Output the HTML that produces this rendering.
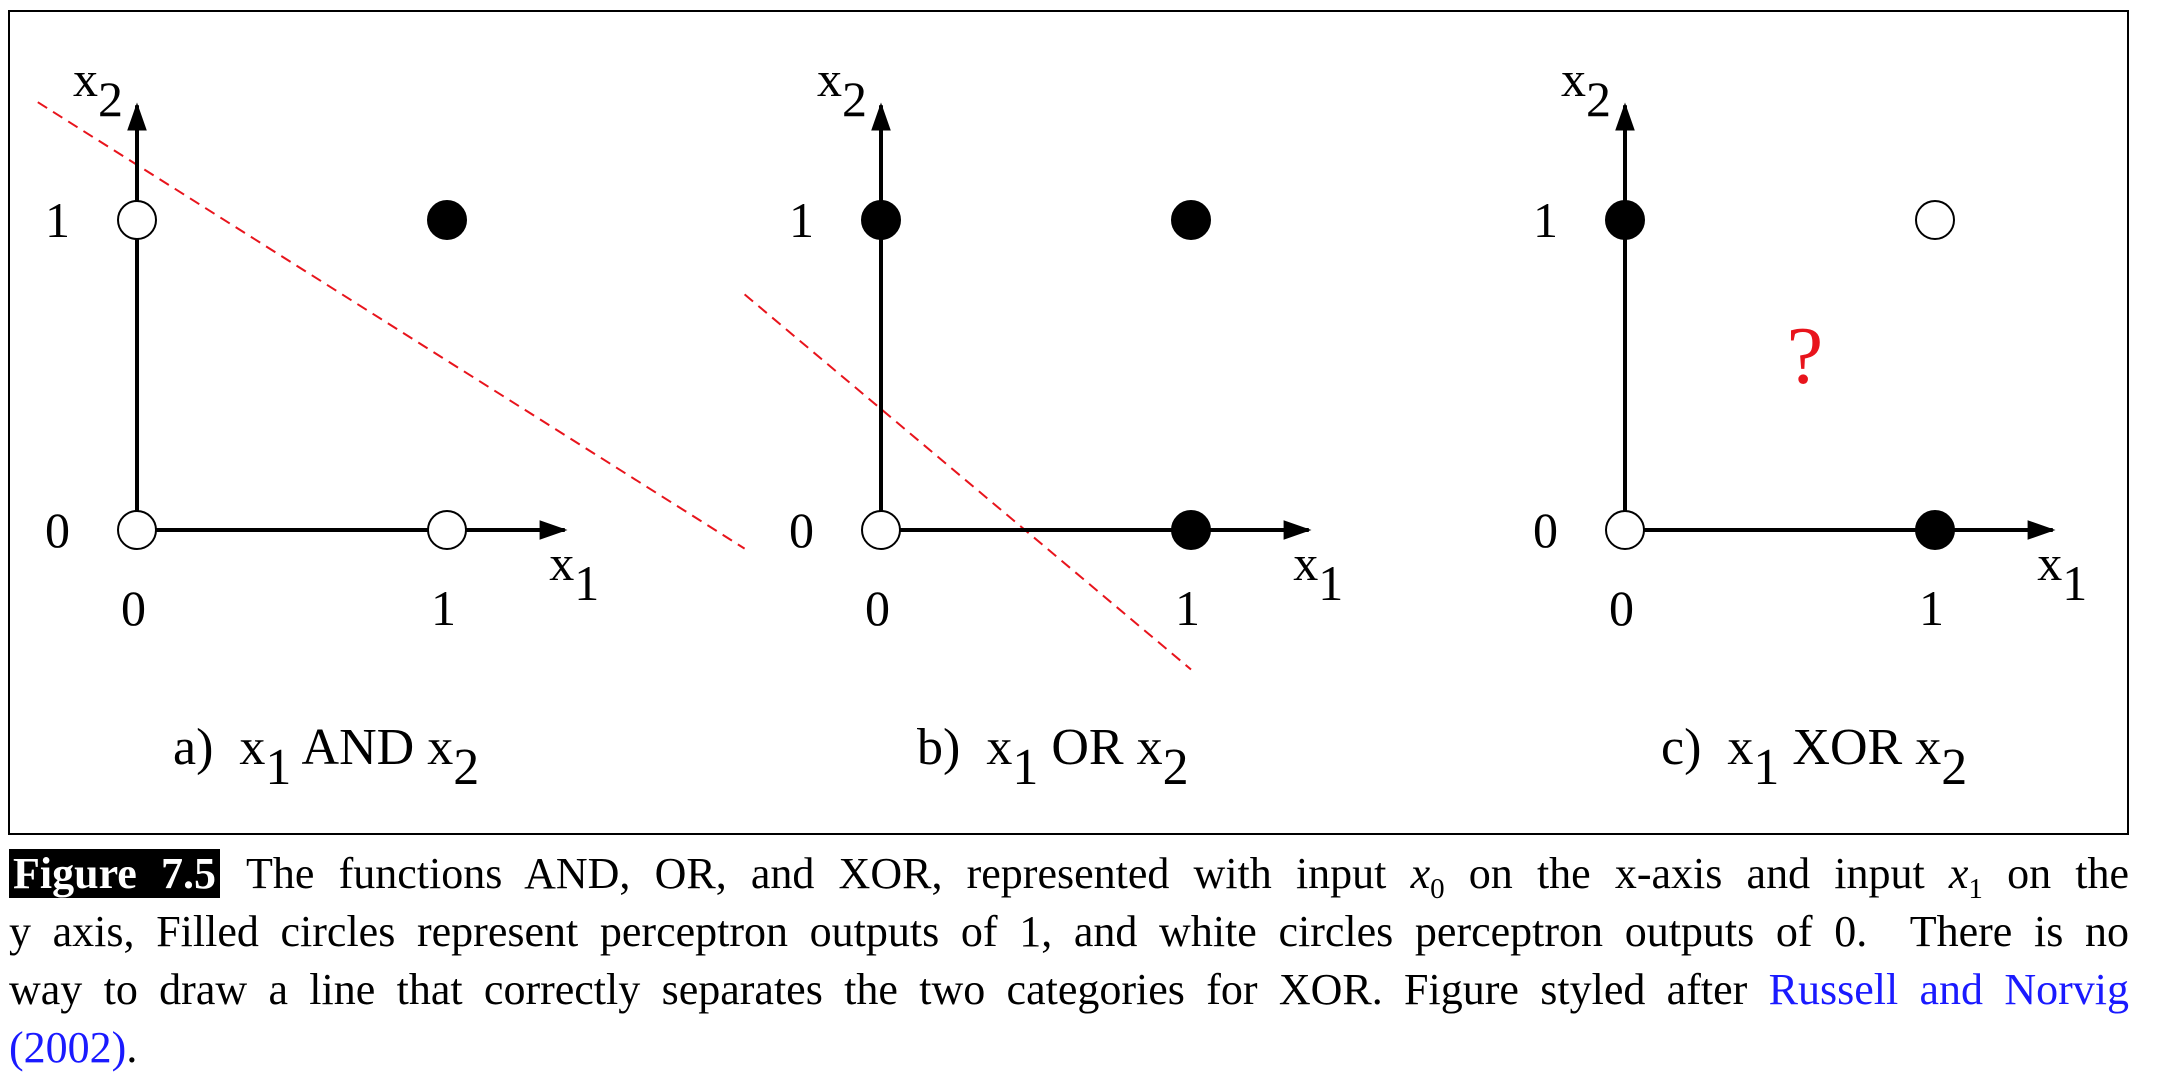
<!DOCTYPE html>
<html><head><meta charset="utf-8"><style>
html,body{margin:0;padding:0;background:#fff;width:2158px;height:1080px;overflow:hidden;}
#fig{position:absolute;left:0;top:0;}
#fig text{font-family:"Liberation Serif",serif;}
.cap{position:absolute;left:9px;width:2120px;font-family:"Liberation Serif",serif;font-size:44px;line-height:58px;white-space:nowrap;text-align:justify;text-align-last:justify;color:#000;}
.cap.last{text-align-last:left;}
.figlab{background:#000;color:#fff;font-weight:bold;padding:0 4px 0 4px;margin-right:26px;}
.link{color:#1a1aff;}
</style></head><body>
<svg id="fig" width="2158" height="1080" xmlns="http://www.w3.org/2000/svg">
<defs><marker id="arr" viewBox="0 0 10 10" refX="9" refY="5" markerWidth="7" markerHeight="7" orient="auto" markerUnits="strokeWidth"><path d="M0,1.5 L10,5 L0,8.5 z" fill="#000"/></marker></defs>
<rect x="9" y="11" width="2119" height="823" fill="none" stroke="#000" stroke-width="2"/>
<g id="panels"></g>
</svg>
<div class="cap" style="top:845px"><span class="figlab">Figure 7.5</span>The functions AND, OR, and XOR, represented with input <i>x</i><sub style="font-size:29px">0</sub> on the x-axis and input <i>x</i><sub style="font-size:29px">1</sub> on the</div>
<div class="cap" style="top:903px">y axis, Filled circles represent perceptron outputs of 1, and white circles perceptron outputs of 0.&nbsp; There is no</div>
<div class="cap" style="top:961px">way to draw a line that correctly separates the two categories for XOR. Figure styled after <span class="link">Russell and Norvig</span></div>
<div class="cap last" style="top:1019px"><span class="link">(2002)</span>.</div>
<script>
const panelNames = ["and", "or", "xor"];
const panelTitles = ["a)", "b)", "c)"];
const panelOps = ["AND", "OR", "XOR"];
const pointX = [0, 0, 1, 1];
const pointY = [0, 1, 0, 1];
const andOut = [0, 0, 0, 1];
const orOut = [0, 1, 1, 1];
const xorOut = [0, 1, 1, 0];
const outputs = [andOut, orOut, xorOut];
// separator lines in data units: [x0, y0, x1, y1]; null = no separator
const sepAnd = [-0.32, 1.38, 1.96, -0.06];
const sepOr = [-0.44, 0.76, 1.0, -0.45];
const separators = [sepAnd, sepOr, null];
const tickLabels = ["0", "1"];

const NS = "http://www.w3.org/2000/svg";
const g = document.getElementById("panels");
const OX0 = 137, OY = 530, UNIT = 310, STEP = 744;
function sx(p, v){ return OX0 + p*STEP + v*UNIT; }
function sy(v){ return OY - v*UNIT; }
function mk(tag, attrs, parent){ const e=document.createElementNS(NS, tag); for(const k in attrs) e.setAttribute(k, attrs[k]); (parent||g).appendChild(e); return e; }
function txt(parent, x, y, size, parts, fill){
  const t = mk("text", {x:x, y:y, "font-size":size, fill:fill||"#000"}, parent);
  parts.forEach(pt=>{ const s=document.createElementNS(NS,"tspan"); s.textContent=pt[0]; if(pt[1]) s.setAttribute("dy", pt[1]); if(pt[2]) s.setAttribute("font-size", pt[2]); t.appendChild(s); });
  return t;
}
panelNames.forEach((name, p)=>{
  const pg = mk("g", {});
  
  
  const sep = separators[p];
  if (sep){
    const l = mk("line", {x1:sx(p,sep[0]), y1:sy(sep[1]), x2:sx(p,sep[2]), y2:sy(sep[3]), stroke:"#e8141c", "stroke-width":2, "stroke-dasharray":"11,7"}, pg);
    
    
  }
  const ya = mk("line", {x1:sx(p,0), y1:sy(0), x2:sx(p,0), y2:sy(1.37), stroke:"#000", "stroke-width":4, "marker-end":"url(#arr)"}, pg);
  
  
  const xa = mk("line", {x1:sx(p,0), y1:sy(0), x2:sx(p,1.38), y2:sy(0), stroke:"#000", "stroke-width":4, "marker-end":"url(#arr)"}, pg);
  
  
  tickLabels.forEach((lab, i)=>{
    const yt = txt(pg, sx(p,0)-92, sy(i)+17, 50, [[lab]]);
    
    
    const xt = txt(pg, sx(p,i)-16, sy(0)+95, 50, [[lab]]);
    
    
  });
  const yl = txt(pg, sx(p,0)-64, 96, 50, [["x"],["2","20"]]);
  
  
  const xl = txt(pg, sx(p,1.33), sy(0)+50, 50, [["x"],["1","20"]]);
  
  
  pointX.forEach((vx, i)=>{
    const c = mk("circle", {cx:sx(p,vx), cy:sy(pointY[i]), r:19, fill: outputs[p][i] ? "#000" : "#fff", stroke:"#000", "stroke-width":2}, pg);
    
    
  });
  const ct = txt(pg, sx(p,0)+36, 764, 52, [[panelTitles[p]+"\u00a0\u00a0x"],["1","20"],[" "+panelOps[p]+" x","-20"],["2","20"]]);
  
  
  if (!sep){
    const q = txt(pg, sx(p,0.58)-18, 383, 82, [["?"]], "#e8141c");
    
    
  }
});
</script>
</body></html>
